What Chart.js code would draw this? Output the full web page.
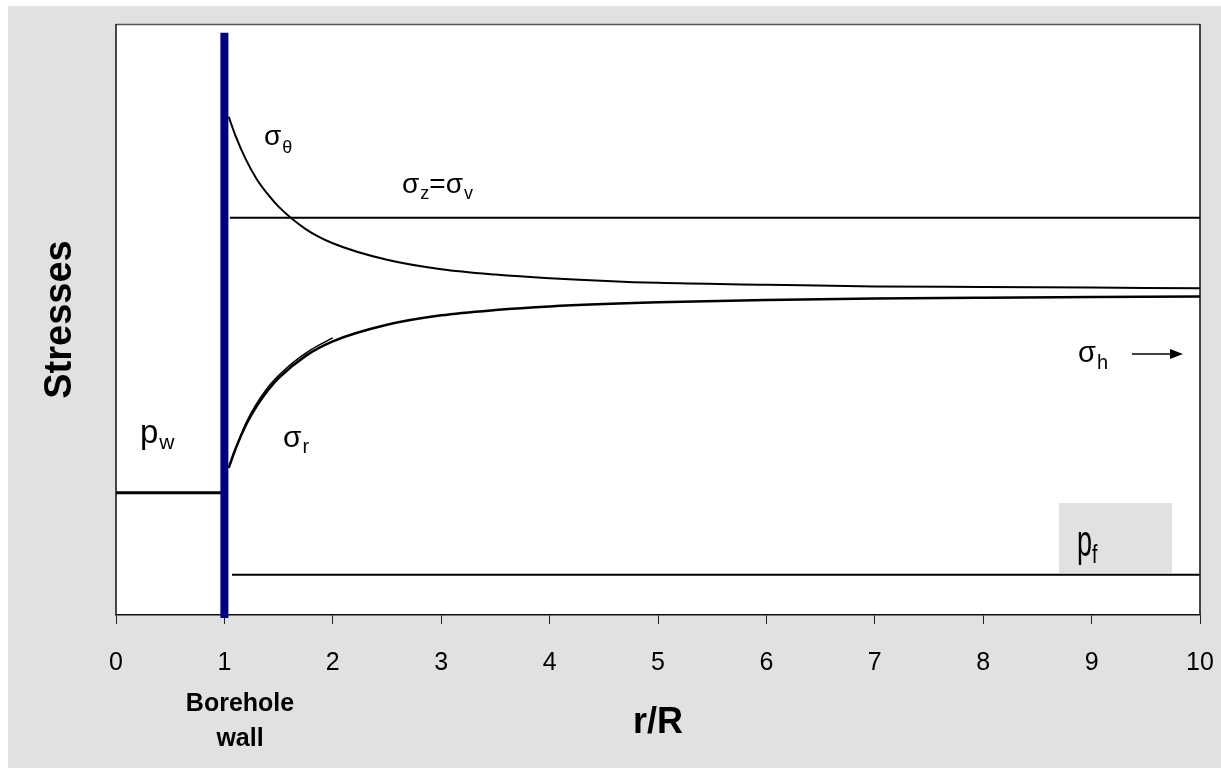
<!DOCTYPE html>
<html>
<head>
<meta charset="utf-8">
<script src="https://cdn.jsdelivr.net/npm/chart.js@4"></script>
<style>
  html, body { margin: 0; padding: 0; background: #fff; }
  #wrap { position: absolute; left: 0; top: 0; width: 1221px; height: 770px; }
</style>
</head>
<body>
<div id="wrap"><canvas id="chart" width="1221" height="770"></canvas></div>
<script>
// x ticks (r/R)
const xTicks = [0, 1, 2, 3, 4, 5, 6, 7, 8, 9, 10];

// sigma_theta (tangential stress)
const rTheta = [1.04, 1.1, 1.2, 1.3, 1.4, 1.5, 1.75, 2, 2.5, 3, 3.5, 4, 5, 6, 7, 8, 9, 10];
const sigmaTheta = [84.3, 81.2, 77.0, 73.7, 71.2, 69.1, 65.3, 62.9, 60.1, 58.5, 57.6, 57.0, 56.2, 55.9, 55.6, 55.5, 55.4, 55.3];

// sigma_r (radial stress)
const rRadial = [1.04, 1.1, 1.2, 1.3, 1.4, 1.5, 1.75, 2, 2.5, 3, 3.5, 4, 5, 6, 7, 8, 9, 10];
const sigmaR = [24.9, 28.0, 32.2, 35.4, 38.0, 40.1, 43.85, 46.3, 49.1, 50.7, 51.6, 52.2, 52.9, 53.3, 53.55, 53.7, 53.8, 53.9];

// short second sigma_r trace near the wall
const rRadial2 = [1.04, 1.2, 1.4, 1.6, 1.8, 2.0];
const sigmaR2 = [24.9, 32.5, 38.5, 42.2, 44.9, 46.9];

// flat levels
const rSigmaZ = [1.05, 10];
const sigmaZ = [67.2, 67.2];
const rPf = [1.07, 10];
const pf = [6.8, 6.8];
const rPw = [0, 1];
const pw = [20.7, 20.7];

// borehole wall
const rWall = [1, 1];
const wallY = [98.5, -0.5];

function pts(xs, ys) {
    return xs.map((x, i) => ({ x: x, y: ys[i] }));
}

function drawSub(ctx, main, sub, x, base, mainPx, subPx, drop) {
    ctx.font = mainPx + 'px "Liberation Sans", Arial, sans-serif';
    ctx.fillText(main, x, base);
    const w = ctx.measureText(main).width;
    ctx.font = subPx + 'px "Liberation Sans", Arial, sans-serif';
    ctx.fillText(sub, x + w + 1, base + drop);
    return x + w + 1 + ctx.measureText(sub).width;
}

const bgPlugin = {
    id: 'bg',
    beforeDraw(chart) {
        const ctx = chart.ctx;
        const a = chart.chartArea;
        ctx.save();
        ctx.fillStyle = '#ffffff';
        ctx.fillRect(0, 0, chart.width, chart.height);
        ctx.fillStyle = '#e0e1e0';
        ctx.fillRect(8, 6, chart.width - 8, 762);
        ctx.fillStyle = '#ffffff';
        ctx.fillRect(a.left, a.top, a.right - a.left, a.bottom - a.top);
        // grey box behind p_f
        ctx.fillStyle = '#e0e1e0';
        ctx.fillRect(1059, 503, 113, 70);
        ctx.restore();
    },
    afterDraw(chart) {
        const ctx = chart.ctx;
        const a = chart.chartArea;
        ctx.save();
        ctx.lineWidth = 1.5;
        ctx.strokeStyle = '#555555';
        ctx.beginPath();
        ctx.moveTo(a.left, a.top + 0.5);
        ctx.lineTo(a.right, a.top + 0.5);
        ctx.stroke();
        ctx.strokeStyle = '#111111';
        ctx.beginPath();
        ctx.moveTo(a.left, a.top);
        ctx.lineTo(a.left, a.bottom);
        ctx.moveTo(a.right, a.top);
        ctx.lineTo(a.right, a.bottom);
        ctx.stroke();

        ctx.fillStyle = '#000000';
        ctx.textBaseline = 'alphabetic';
        ctx.textAlign = 'left';

        // curve labels
        drawSub(ctx, 'σ', 'θ', 264, 145, 28, 18, 8);
        let x = drawSub(ctx, 'σ', 'z', 402, 193, 28, 18, 6);
        ctx.font = '28px "Liberation Sans", Arial, sans-serif';
        ctx.fillText('=', x, 193);
        x += ctx.measureText('=').width;
        drawSub(ctx, 'σ', 'v', x, 193, 28, 18, 6);
        drawSub(ctx, 'σ', 'r', 283, 447, 30, 20, 6);
        drawSub(ctx, 'σ', 'h', 1078, 362, 29, 20, 7);
        drawSub(ctx, 'p', 'w', 140, 443, 33, 21, 6);

        // p_f, narrow font
        ctx.save();
        ctx.translate(1077, 556);
        ctx.scale(0.6, 1);
        ctx.font = '45px "Liberation Sans", Arial, sans-serif';
        ctx.fillText('p', 0, 0);
        ctx.restore();
        ctx.save();
        ctx.translate(1092, 563);
        ctx.scale(0.75, 1);
        ctx.font = '26px "Liberation Sans", Arial, sans-serif';
        ctx.fillText('f', 0, 0);
        ctx.restore();

        // arrow after sigma_h
        ctx.strokeStyle = '#000000';
        ctx.lineWidth = 1.5;
        ctx.beginPath();
        ctx.moveTo(1132, 354);
        ctx.lineTo(1172, 354);
        ctx.stroke();
        ctx.beginPath();
        ctx.moveTo(1170, 349);
        ctx.lineTo(1183, 354);
        ctx.lineTo(1170, 359);
        ctx.closePath();
        ctx.fill();

        // axis titles
        ctx.textAlign = 'center';
        ctx.font = 'bold 36px "Liberation Sans", Arial, sans-serif';
        ctx.fillText('r/R', (a.left + a.right) / 2, 733);
        ctx.font = 'bold 25px "Liberation Sans", Arial, sans-serif';
        ctx.fillText('Borehole', 240, 711);
        ctx.fillText('wall', 240, 746);
        ctx.save();
        ctx.translate(71, (a.top + a.bottom) / 2);
        ctx.rotate(-Math.PI / 2);
        ctx.font = 'bold 38px "Liberation Sans", Arial, sans-serif';
        ctx.fillText('Stresses', 0, 0);
        ctx.restore();
        ctx.restore();
    }
};

const lineDefaults = { showLine: true, pointRadius: 0, borderColor: '#000000', fill: false };

new Chart(document.getElementById('chart'), {
    type: 'scatter',
    data: {
        datasets: [
            { label: 'Borehole wall', data: pts(rWall, wallY), showLine: true, pointRadius: 0, borderColor: '#000080', borderWidth: 8, clip: false, order: -1 },
            Object.assign({ label: 'σθ', data: pts(rTheta, sigmaTheta), borderWidth: 2, cubicInterpolationMode: 'monotone' }, lineDefaults),
            Object.assign({ label: 'σr', data: pts(rRadial, sigmaR), borderWidth: 2.5, cubicInterpolationMode: 'monotone' }, lineDefaults),
            Object.assign({ label: 'σr 2', data: pts(rRadial2, sigmaR2), borderWidth: 1.5, cubicInterpolationMode: 'monotone' }, lineDefaults),
            Object.assign({ label: 'σz=σv', data: pts(rSigmaZ, sigmaZ), borderWidth: 2 }, lineDefaults),
            Object.assign({ label: 'pf', data: pts(rPf, pf), borderWidth: 2 }, lineDefaults),
            Object.assign({ label: 'pw', data: pts(rPw, pw), borderWidth: 3 }, lineDefaults)
        ]
    },
    options: {
        responsive: false,
        animation: false,
        layout: { padding: { left: 116, top: 24, right: 21, bottom: 0 } },
        plugins: { legend: { display: false }, tooltip: { enabled: false } },
        scales: {
            x: {
                type: 'linear',
                min: 0,
                max: 10,
                afterBuildTicks: (scale) => { scale.ticks = xTicks.map(v => ({ value: v })); },
                afterFit: (scale) => {
                    scale.height = 155;
                    scale.paddingLeft = 0;
                    scale.paddingRight = 0;
                },
                grid: { drawOnChartArea: false, drawTicks: true, tickLength: 9, color: '#222222', lineWidth: 1 },
                border: { display: true, color: '#111111', width: 1.5 },
                ticks: {
                    color: '#000000',
                    padding: 24,
                    maxRotation: 0,
                    autoSkip: false,
                    font: { family: '"Liberation Sans", Arial, sans-serif', size: 25 }
                }
            },
            y: {
                display: false,
                min: 0,
                max: 100
            }
        }
    },
    plugins: [bgPlugin]
});
</script>
</body>
</html>
